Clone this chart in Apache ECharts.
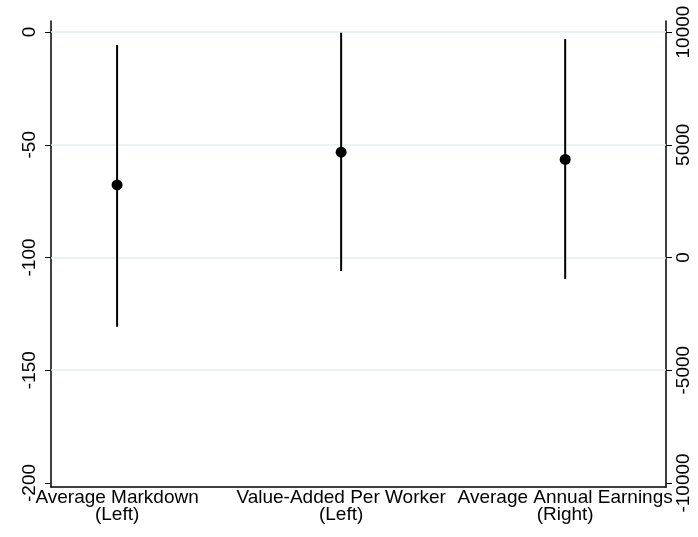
<!DOCTYPE html>
<html>
<head>
<meta charset="utf-8">
<script src="https://cdn.jsdelivr.net/npm/echarts@6/dist/echarts.min.js"></script>
<style>html,body{margin:0;padding:0;background:#fff;}#c{width:698px;height:537px;}</style>
</head>
<body>
<div id="c"></div>
<script>
var categories = ['Average Markdown\n(Left)', 'Value-Added Per Worker\n(Left)', 'Average Annual Earnings\n(Right)'];
var categoryPos = [1, 2, 3];
var axisSide = [0, 0, 1];
var estimates = [-67.8, -53.3, 4350];
var ciLow = [-130.7, -106, -950];
var ciHigh = [-5.8, -0.3, 9690];
var leftTicks = [0, -50, -100, -150, -200];
var rightTicks = [10000, 5000, 0, -5000, -10000];
var gridValues = [0, -50, -100, -150];

var FONT = 'Liberation Sans, Arial, sans-serif';
var chart = echarts.init(document.getElementById('c'), null, {renderer: 'canvas'});

function seriesData(side) {
  var d = [];
  for (var i = 0; i < categories.length; i++) {
    if (axisSide[i] === side) d.push([categoryPos[i], estimates[i], ciLow[i], ciHigh[i]]);
  }
  return d;
}
function renderItem(params, api) {
  var x = api.value(0);
  var p = api.coord([x, api.value(1)]);
  var lo = api.coord([x, api.value(2)]);
  var hi = api.coord([x, api.value(3)]);
  return {
    type: 'group',
    children: [
      {type: 'line', shape: {x1: lo[0], y1: lo[1], x2: hi[0], y2: hi[1]}, style: {stroke: '#000', lineWidth: 2}},
      {type: 'circle', shape: {cx: p[0], cy: p[1], r: 5.5}, style: {fill: '#000'}}
    ]
  };
}
function plain(v) { return String(v); }

var option = {
  animation: false,
  backgroundColor: '#fff',
  grid: {left: 51, right: 32, top: 21, bottom: 50, containLabel: false},
  xAxis: {
    type: 'value', min: 0.705, max: 3.45,
    axisLine: {show: true, onZero: false, lineStyle: {color: '#000', width: 1.5}},
    axisTick: {show: false},
    splitLine: {show: false},
    axisLabel: {
      customValues: categoryPos,
      formatter: function (v) { return categories[categoryPos.indexOf(v)] || ''; },
      color: '#000', fontFamily: FONT, fontSize: 19, lineHeight: 17, margin: 2
    }
  },
  yAxis: [{
    type: 'value', min: -201.8, max: 4.9, position: 'left',
    axisLine: {show: true, onZero: false, lineStyle: {color: '#000', width: 1.5}},
    axisTick: {show: true, customValues: leftTicks, length: 6, lineStyle: {color: '#000', width: 1}},
    splitLine: {show: false},
    axisLabel: {customValues: leftTicks, formatter: plain, rotate: 90, color: '#000', fontFamily: FONT, fontSize: 19, margin: 12}
  }, {
    type: 'value', min: -10180, max: 10490, position: 'right',
    axisLine: {show: true, onZero: false, lineStyle: {color: '#000', width: 1.5}},
    axisTick: {show: true, customValues: rightTicks, length: 6, lineStyle: {color: '#000', width: 1}},
    splitLine: {show: false},
    axisLabel: {customValues: rightTicks, formatter: plain, rotate: 90, color: '#000', fontFamily: FONT, fontSize: 19, margin: 8}
  }],
  series: [{
    type: 'line', data: [], yAxisIndex: 0, silent: true,
    markLine: {
      silent: true, symbol: 'none', label: {show: false},
      lineStyle: {color: '#e6eef0', width: 1.5, type: 'solid'},
      data: gridValues.map(function (v) { return {yAxis: v}; })
    }
  }, {
    type: 'custom', yAxisIndex: 0, renderItem: renderItem, data: seriesData(0), z: 5
  }, {
    type: 'custom', yAxisIndex: 1, renderItem: renderItem, data: seriesData(1), z: 5
  }]
};
chart.setOption(option);
</script>
</body>
</html>
